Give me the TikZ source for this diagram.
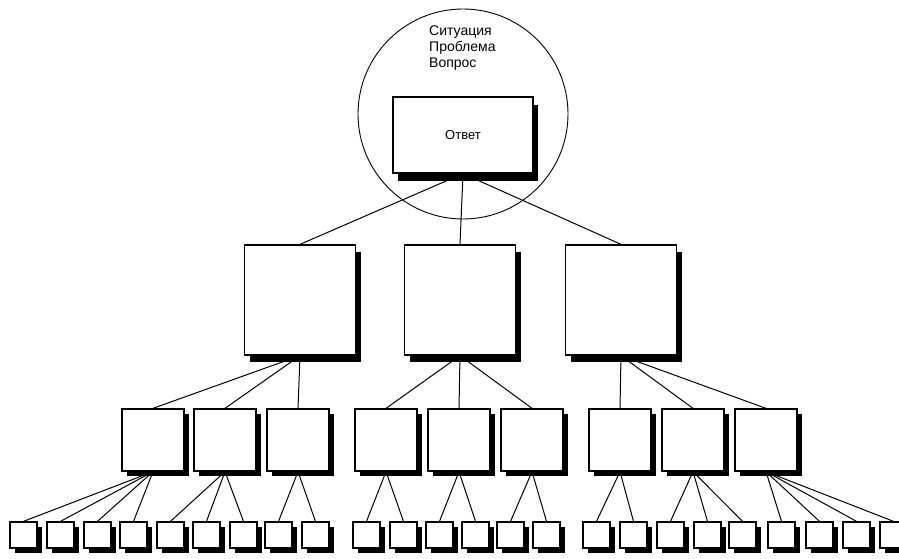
\documentclass[tikz,border=0pt]{standalone}
\usepackage{fontspec}
\setmainfont{Liberation Sans}
\usetikzlibrary{shadows,backgrounds}

\begin{document}
\begin{tikzpicture}[%
      x=1pt, y=-1pt,
      every node/.style={inner sep=0pt, font=\fontsize{13}{16}\selectfont},
      box/.style={draw, line width=1.3pt, fill=white},
      answerbox/.style={box, minimum width=140pt, minimum height=76pt,
        drop shadow={shadow xshift=5pt, shadow yshift=-8pt, fill=black, opacity=1}},
      bigbox/.style={box, minimum width=111pt, minimum height=110pt,
        drop shadow={shadow xshift=5pt, shadow yshift=-7pt, fill=black, opacity=1}},
      midbox/.style={box, minimum width=62pt, minimum height=62pt,
        drop shadow={shadow xshift=4.5pt, shadow yshift=-5pt, fill=black, opacity=1}},
      leafbox/.style={box, minimum width=27pt, minimum height=26pt,
        drop shadow={shadow xshift=5pt, shadow yshift=-5pt, fill=black, opacity=1}},
      link/.style={line width=1pt},
      ]
      \clip (0,0) rectangle (899,559);

      % question circle and answer
      \node [circle, draw, line width=0.9pt, minimum size=210pt] (frame) at (463,114) {};
      \node [anchor=north west, align=left, font=\fontsize{14}{16}\selectfont] (question) at (429,26) {Ситуация\\Проблема\\Вопрос};
      \node [answerbox] (answer) at (463,135) {Ответ};

      % levels
      \foreach \x [count=\i] in {300,460,621}
        \node [bigbox] (top\i) at (\x,300) {};
      \foreach \x [count=\i] in {153,225,298,386,459,532,620,693,766}
        \node [midbox] (mid\i) at (\x,440) {};
      \foreach \x [count=\i] in {23.5,60.5,97.5,133.5,170.5,206.5,243.5,278.5,315.5,
                                 366.5,403.5,439.5,475.5,510.5,546.5,
                                 596.5,633.5,670.5,707.5,742.5,781.5,819.5,856.5,893.5}
        \node [leafbox] (leaf\i) at (\x,535) {};

      % connectors
      \begin{scope}[on background layer]
        \foreach \i in {1,2,3}
          \draw [link] (answer.south) -- (top\i.north);
        \foreach \p/\c in {1/1,1/2,1/3,2/4,2/5,2/6,3/7,3/8,3/9}
          \draw [link] (top\p.south) -- (mid\c.north);
        \foreach \p/\c in {1/1,1/2,1/3,1/4,2/5,2/6,2/7,3/8,3/9,4/10,4/11,5/12,5/13,
                           6/14,6/15,7/16,7/17,8/18,8/19,8/20,9/21,9/22,9/23,9/24}
          \draw [link] (mid\p.south) -- (leaf\c.north);
      \end{scope}
\end{tikzpicture}
\end{document}
